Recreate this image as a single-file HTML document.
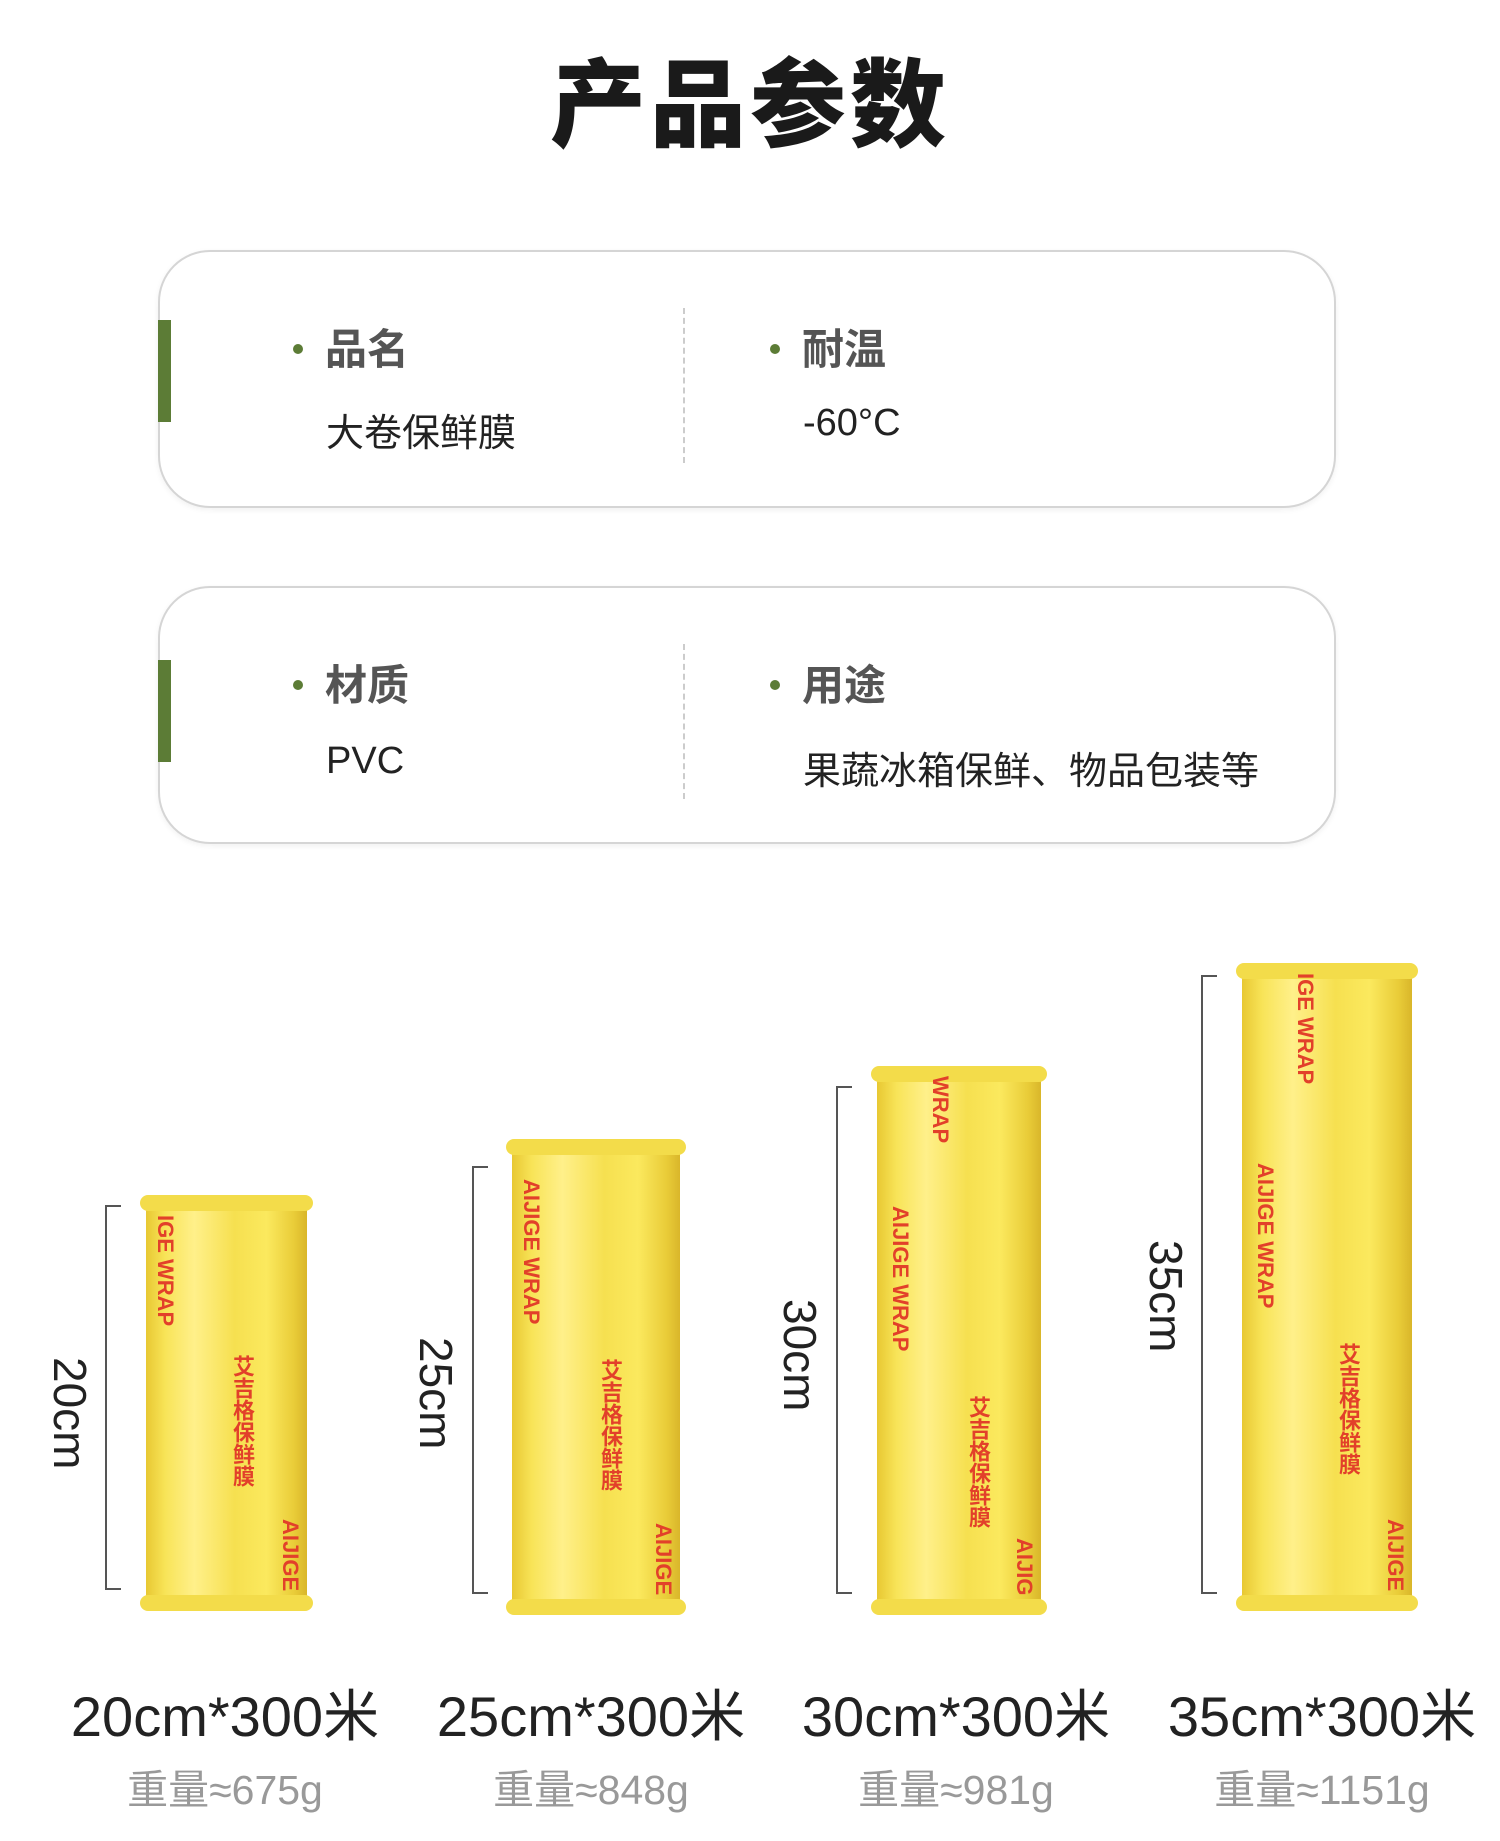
<!DOCTYPE html>
<html><head><meta charset="utf-8"><style>
*{margin:0;padding:0;box-sizing:border-box}
body{width:1500px;height:1841px;background:#fff;position:relative;overflow:hidden;font-family:"Liberation Sans","Noto Sans CJK SC",sans-serif;color:#222}
.abs{position:absolute}
.title{left:0;width:1500px;top:28px;text-align:center;font-size:96px;font-weight:900;letter-spacing:4px;color:#1a1a1a}
.card{left:158px;width:1178px;height:258px;border:2px solid #d5d5d5;border-radius:52px;background:#fff;box-shadow:0 2px 6px rgba(0,0,0,.06)}
.bar{left:158px;width:13px;height:102px;background:#5c7c36}
.lab{font-size:42px;font-weight:700;color:#555}
.lab:before{content:"";display:inline-block;width:10px;height:10px;border-radius:50%;background:#5c7c36;margin-right:22px;vertical-align:middle;position:relative;top:-4px}
.val{font-size:38px;color:#222}
.dash{left:683px;width:0;border-left:2px dashed #ccc}
.roll{border-radius:10px;background:linear-gradient(90deg,#e8c832 0%,#f8e458 12%,#fff08a 30%,#f6e050 55%,#fbe95e 75%,#e9cc38 92%,#d9b62a 100%)}
.roll:before{content:"";position:absolute;left:-6px;right:-6px;top:0;height:16px;border-radius:8px;background:#f3dc4a}
.roll:after{content:"";position:absolute;left:-6px;right:-6px;bottom:0;height:16px;border-radius:8px;background:#f3dc4a}
.br{border:2px solid #555;border-right:none;width:16px}
.rot{font-size:46px;color:#222;transform:rotate(90deg);transform-origin:center;white-space:nowrap}
.sz{font-size:56px;color:#222;width:360px;text-align:center}
.wt{font-size:41px;color:#999;width:360px;text-align:center}
.rt{color:#e2402a;font-size:22px;font-weight:700;writing-mode:vertical-rl;position:absolute}
</style></head><body>
<div class="abs title">产品参数</div>

<div class="abs card" style="top:250px"></div>
<div class="abs bar" style="top:320px"></div>
<div class="abs lab" style="left:293px;top:316px">品名</div>
<div class="abs val" style="left:326px;top:402px">大卷保鲜膜</div>
<div class="abs dash" style="top:308px;height:155px"></div>
<div class="abs lab" style="left:770px;top:316px">耐温</div>
<div class="abs val" style="left:803px;top:402px">-60°C</div>

<div class="abs card" style="top:586px"></div>
<div class="abs bar" style="top:660px"></div>
<div class="abs lab" style="left:293px;top:652px">材质</div>
<div class="abs val" style="left:326px;top:740px">PVC</div>
<div class="abs dash" style="top:644px;height:155px"></div>
<div class="abs lab" style="left:770px;top:652px">用途</div>
<div class="abs val" style="left:803px;top:740px">果蔬冰箱保鲜、物品包装等</div>

<div class="abs roll" style="left:146px;top:1195px;width:161px;height:416px"><span class="rt" style="left:6px;top:20px">IGE WRAP</span><span class="rt" style="left:80px;top:160px">艾吉格保鲜膜</span><span class="rt" style="right:4px;bottom:20px">AIJIGE</span></div>
<div class="abs roll" style="left:512px;top:1139px;width:168px;height:476px"><span class="rt" style="left:6px;top:40px">AIJIGE WRAP</span><span class="rt" style="left:82px;top:220px">艾吉格保鲜膜</span><span class="rt" style="right:4px;bottom:20px">AIJIGE</span></div>
<div class="abs roll" style="left:877px;top:1066px;width:164px;height:549px"><span class="rt" style="left:50px;top:10px">WRAP</span><span class="rt" style="left:10px;top:140px">AIJIGE WRAP</span><span class="rt" style="left:85px;top:330px">艾吉格保鲜膜</span><span class="rt" style="right:4px;bottom:20px">AIJIG</span></div>
<div class="abs roll" style="left:1242px;top:963px;width:170px;height:648px"><span class="rt" style="left:50px;top:10px">IGE WRAP</span><span class="rt" style="left:10px;top:200px">AIJIGE WRAP</span><span class="rt" style="left:90px;top:380px">艾吉格保鲜膜</span><span class="rt" style="right:4px;bottom:20px">AIJIGE</span></div>

<div class="abs br" style="left:105px;top:1205px;height:385px"></div>
<div class="abs br" style="left:472px;top:1166px;height:428px"></div>
<div class="abs br" style="left:836px;top:1086px;height:508px"></div>
<div class="abs br" style="left:1201px;top:975px;height:619px"></div>

<div class="abs rot" style="left:20px;top:1380px;width:100px;text-align:center">20cm</div>
<div class="abs rot" style="left:386px;top:1360px;width:100px;text-align:center">25cm</div>
<div class="abs rot" style="left:750px;top:1322px;width:100px;text-align:center">30cm</div>
<div class="abs rot" style="left:1116px;top:1263px;width:100px;text-align:center">35cm</div>

<div class="abs sz" style="left:45px;top:1672px">20cm*300米</div>
<div class="abs sz" style="left:411px;top:1672px">25cm*300米</div>
<div class="abs sz" style="left:776px;top:1672px">30cm*300米</div>
<div class="abs sz" style="left:1142px;top:1672px">35cm*300米</div>
<div class="abs wt" style="left:45px;top:1756px">重量≈675g</div>
<div class="abs wt" style="left:411px;top:1756px">重量≈848g</div>
<div class="abs wt" style="left:776px;top:1756px">重量≈981g</div>
<div class="abs wt" style="left:1142px;top:1756px">重量≈1151g</div>
</body></html>
